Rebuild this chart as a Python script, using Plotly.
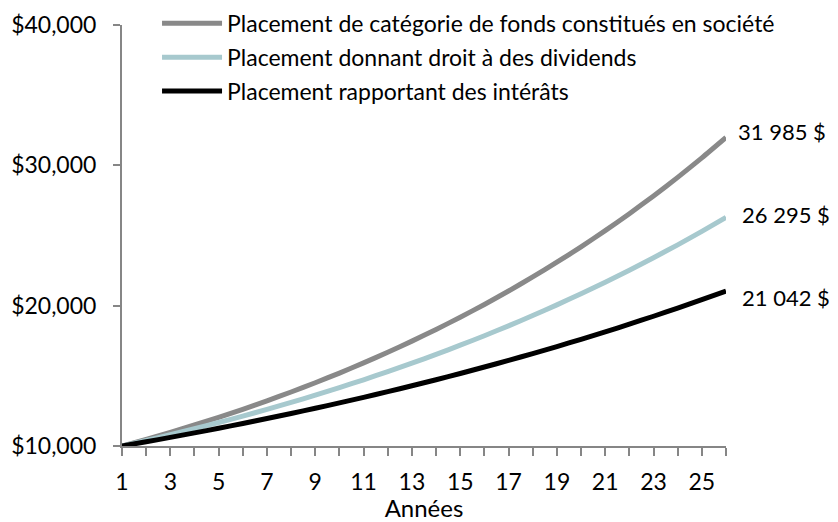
import plotly.graph_objects as go

annees = list(range(1, 27))
fonds_societe = [10000, 10476, 10975, 11497, 12044, 12617, 13218, 13847, 14506, 15197,
                 15920, 16678, 17472, 18304, 19175, 20088, 21044, 22046, 23096, 24195,
                 25347, 26554, 27818, 29142, 30529, 31985]
dividendes = [10000, 10394, 10804, 11230, 11673, 12133, 12611, 13108, 13625, 14162,
              14720, 15300, 15903, 16530, 17182, 17860, 18564, 19296, 20057, 20848,
              21670, 22524, 23412, 24335, 25295, 26295]
interets = [10000, 10302, 10613, 10934, 11264, 11604, 11955, 12316, 12688, 13071,
            13466, 13873, 14292, 14724, 15169, 15627, 16099, 16585, 17086, 17602,
            18134, 18682, 19246, 19827, 20426, 21042]
noms = ["Placement de catégorie de fonds constitués en société",
        "Placement donnant droit à des dividends",
        "Placement rapportant des intérâts"]
etiquettes_fin = ["31 985 $", "26 295 $", "21 042 $"]
couleurs = ["#898989", "#A7C9CE", "#000000"]

FONT = "Lato, Carlito, Calibri, sans-serif"
FS = 23
fig = go.Figure()
series = [fonds_societe, dividendes, interets]
decalages = [(10, 6), (14, 3), (14, -6)]
for i, (vals, nom, col) in enumerate(zip(series, noms, couleurs)):
    fig.add_trace(go.Scatter(x=annees, y=vals, mode="lines", name=nom,
                             line=dict(color=col, width=5, shape="spline", smoothing=0.6),
                             legendgroup=f"g{i}", hoverinfo="skip"))
    fig.add_annotation(x=annees[-1], y=vals[-1], text=etiquettes_fin[i],
                       xanchor="left", yanchor="middle", showarrow=False,
                       xshift=decalages[i][0], yshift=decalages[i][1],
                       font=dict(family=FONT, size=FS - 1, color="#000"))

fig.update_layout(
    width=838, height=522,
    margin=dict(l=122, r=112, t=25, b=76, autoexpand=False),
    plot_bgcolor="white", paper_bgcolor="white",
    font=dict(family=FONT, size=FS, color="#000"),
    showlegend=True,
    legend=dict(x=0.058, y=1.055, xanchor="left", yanchor="top",
                font=dict(family=FONT, size=FS, color="#000"),
                tracegroupgap=1, itemwidth=60, bgcolor="rgba(0,0,0,0)"),
    xaxis=dict(range=[1, 26], tick0=1, dtick=2, showgrid=False, zeroline=False,
               showline=True, linecolor="#868686", linewidth=2,
               ticks="outside", ticklen=8, tickwidth=2, tickcolor="#868686",
               minor=dict(dtick=1, tick0=1, ticks="outside", ticklen=8, tickwidth=2,
                          tickcolor="#868686", showgrid=False),
               tickfont=dict(family=FONT, size=FS), ticklabelstandoff=6,
               title=dict(text="Années", font=dict(family=FONT, size=24), standoff=21)),
    yaxis=dict(range=[10000, 40000], dtick=10000, tickprefix="$", tickformat=",",
               showgrid=False, zeroline=False, showline=True, linecolor="#868686",
               linewidth=2, ticks="outside", ticklen=7, tickwidth=2, tickcolor="#868686",
               tickfont=dict(family=FONT, size=FS), ticklabelstandoff=12),
)
fig.write_html("out.html", config={"displayModeBar": False},
               post_script="document.body.style.margin='0';")
